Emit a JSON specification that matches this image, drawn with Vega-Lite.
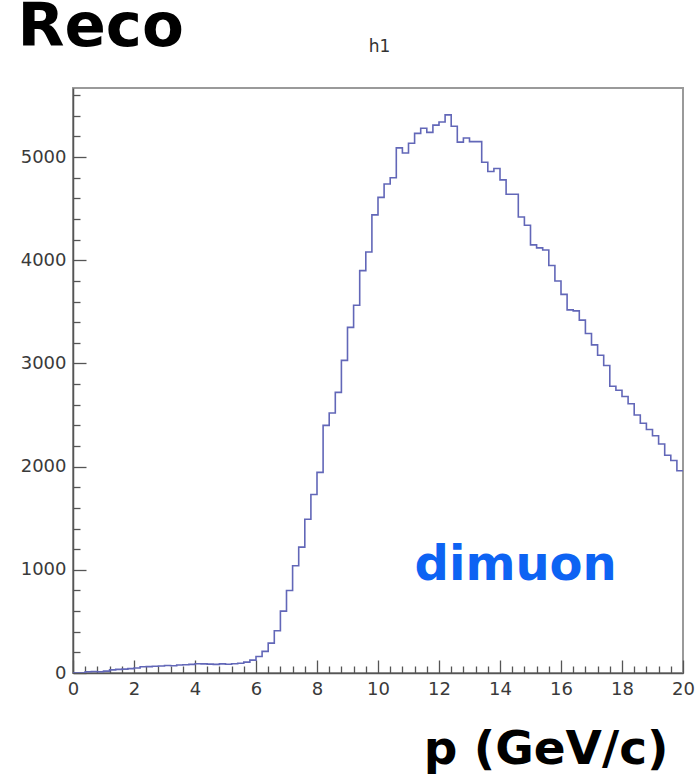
{
  "$schema": "https://vega.github.io/schema/vega-lite/v6.json",
  "autosize": "none",
  "width": 610,
  "height": 585,
  "padding": {"left": 73, "top": 88, "right": 17, "bottom": 103},
  "background": "white",
  "config": {
    "view": {"stroke": "#9a9a9a", "strokeWidth": 2},
    "axis": {"grid": false}
  },
  "datasets": {
    "hist": [
      {"p": 0.0, "entries": 0}, {"p": 0.2, "entries": 0}, {"p": 0.4, "entries": 12}, {"p": 0.6, "entries": 14}, {"p": 0.8, "entries": 12},
      {"p": 1.0, "entries": 18}, {"p": 1.2, "entries": 30}, {"p": 1.4, "entries": 35}, {"p": 1.6, "entries": 38}, {"p": 1.8, "entries": 42},
      {"p": 2.0, "entries": 48}, {"p": 2.2, "entries": 60}, {"p": 2.4, "entries": 62}, {"p": 2.6, "entries": 65}, {"p": 2.8, "entries": 68},
      {"p": 3.0, "entries": 72}, {"p": 3.2, "entries": 70}, {"p": 3.4, "entries": 78}, {"p": 3.6, "entries": 80}, {"p": 3.8, "entries": 84},
      {"p": 4.0, "entries": 90}, {"p": 4.2, "entries": 88}, {"p": 4.4, "entries": 86}, {"p": 4.6, "entries": 84}, {"p": 4.8, "entries": 88},
      {"p": 5.0, "entries": 85}, {"p": 5.2, "entries": 90}, {"p": 5.4, "entries": 95}, {"p": 5.6, "entries": 105}, {"p": 5.8, "entries": 125},
      {"p": 6.0, "entries": 160}, {"p": 6.2, "entries": 210}, {"p": 6.4, "entries": 290}, {"p": 6.6, "entries": 410}, {"p": 6.8, "entries": 600},
      {"p": 7.0, "entries": 800}, {"p": 7.2, "entries": 1040}, {"p": 7.4, "entries": 1220}, {"p": 7.6, "entries": 1490}, {"p": 7.8, "entries": 1730},
      {"p": 8.0, "entries": 1945}, {"p": 8.2, "entries": 2400}, {"p": 8.4, "entries": 2520}, {"p": 8.6, "entries": 2720}, {"p": 8.8, "entries": 3030},
      {"p": 9.0, "entries": 3350}, {"p": 9.2, "entries": 3565}, {"p": 9.4, "entries": 3900}, {"p": 9.6, "entries": 4080}, {"p": 9.8, "entries": 4440},
      {"p": 10.0, "entries": 4610}, {"p": 10.2, "entries": 4740}, {"p": 10.4, "entries": 4800}, {"p": 10.6, "entries": 5090}, {"p": 10.8, "entries": 5040},
      {"p": 11.0, "entries": 5135}, {"p": 11.2, "entries": 5230}, {"p": 11.4, "entries": 5280}, {"p": 11.6, "entries": 5240}, {"p": 11.8, "entries": 5310},
      {"p": 12.0, "entries": 5340}, {"p": 12.2, "entries": 5410}, {"p": 12.4, "entries": 5300}, {"p": 12.6, "entries": 5145}, {"p": 12.8, "entries": 5185},
      {"p": 13.0, "entries": 5150}, {"p": 13.2, "entries": 5150}, {"p": 13.4, "entries": 4950}, {"p": 13.6, "entries": 4860}, {"p": 13.8, "entries": 4890},
      {"p": 14.0, "entries": 4780}, {"p": 14.2, "entries": 4640}, {"p": 14.4, "entries": 4640}, {"p": 14.6, "entries": 4420}, {"p": 14.8, "entries": 4340},
      {"p": 15.0, "entries": 4150}, {"p": 15.2, "entries": 4120}, {"p": 15.4, "entries": 4100}, {"p": 15.6, "entries": 3950}, {"p": 15.8, "entries": 3800},
      {"p": 16.0, "entries": 3670}, {"p": 16.2, "entries": 3520}, {"p": 16.4, "entries": 3510}, {"p": 16.6, "entries": 3420}, {"p": 16.8, "entries": 3290},
      {"p": 17.0, "entries": 3180}, {"p": 17.2, "entries": 3080}, {"p": 17.4, "entries": 2980}, {"p": 17.6, "entries": 2780}, {"p": 17.8, "entries": 2740},
      {"p": 18.0, "entries": 2680}, {"p": 18.2, "entries": 2610}, {"p": 18.4, "entries": 2500}, {"p": 18.6, "entries": 2420}, {"p": 18.8, "entries": 2360},
      {"p": 19.0, "entries": 2300}, {"p": 19.2, "entries": 2220}, {"p": 19.4, "entries": 2110}, {"p": 19.6, "entries": 2060}, {"p": 19.8, "entries": 1960},
      {"p": 20.0, "entries": 1960}
    ],
    "notes": [
      {"p": 11.2, "entries": 900, "label": "dimuon", "kind": "big"},
      {"p": 10.05, "entries": 6020, "label": "h1", "kind": "small"},
      {"p": -1.82, "entries": 6080, "label": "Reco", "kind": "head"}
    ]
  },
  "encoding": {
    "x": {
      "field": "p", "type": "quantitative",
      "scale": {"domain": [0, 20], "nice": false, "zero": false},
      "axis": {
        "title": "p (GeV/c)",
        "titleFont": "DejaVu Sans", "titleFontSize": 47, "titleFontWeight": "bold", "titleColor": "black",
        "titleAlign": "right", "titleX": 595, "titleY": 90, "titleBaseline": "alphabetic",
        "values": [0, 0.4, 0.8, 1.2, 1.6, 2, 2.4, 2.8, 3.2, 3.6, 4, 4.4, 4.8, 5.2, 5.6, 6, 6.4, 6.8, 7.2, 7.6, 8, 8.4, 8.8, 9.2, 9.6, 10, 10.4, 10.8, 11.2, 11.6, 12, 12.4, 12.8, 13.2, 13.6, 14, 14.4, 14.8, 15.2, 15.6, 16, 16.4, 16.8, 17.2, 17.6, 18, 18.4, 18.8, 19.2, 19.6, 20],
        "tickCount": 200,
        "tickMinStep": 0.1,
        "labelExpr": "datum.value % 2 === 0 ? datum.label : ''",
        "format": "~g",
        "labelFlush": false, "labelOverlap": false,
        "labelFont": "DejaVu Sans", "labelFontSize": 18, "labelColor": "#3a3a3a",
        "labelPadding": 20,
        "tickSize": {"condition": {"test": "datum.value % 2 === 0", "value": -13}, "value": -7},
        "tickColor": "#555555", "tickWidth": 1.3,
        "domainColor": "#555555", "domainWidth": 1.5
      }
    },
    "y": {
      "field": "entries", "type": "quantitative",
      "scale": {"domain": [0, 5670], "nice": false},
      "axis": {
        "title": null,
        "values": [0, 200, 400, 600, 800, 1000, 1200, 1400, 1600, 1800, 2000, 2200, 2400, 2600, 2800, 3000, 3200, 3400, 3600, 3800, 4000, 4200, 4400, 4600, 4800, 5000, 5200, 5400, 5600],
        "tickCount": 200,
        "labelExpr": "datum.value % 1000 === 0 ? datum.label : ''",
        "format": "d",
        "labelFlush": false, "labelOverlap": false,
        "labelFont": "DejaVu Sans", "labelFontSize": 18, "labelColor": "#3a3a3a",
        "labelPadding": 20,
        "tickSize": {"condition": {"test": "datum.value % 1000 === 0", "value": -13}, "value": -7},
        "tickColor": "#555555", "tickWidth": 1.3,
        "domainColor": "#555555", "domainWidth": 1.5
      }
    }
  },
  "layer": [
    {
      "data": {"name": "hist"},
      "mark": {"type": "line", "interpolate": "step-after", "color": "#6267b8", "strokeWidth": 1.6, "clip": true}
    },
    {
      "data": {"name": "notes"},
      "transform": [{"filter": "datum.kind === 'big'"}],
      "mark": {"type": "text", "align": "left", "baseline": "alphabetic", "font": "DejaVu Sans", "fontSize": 48, "fontWeight": "bold", "color": "#0d63f3", "clip": false},
      "encoding": {"text": {"field": "label"}}
    },
    {
      "data": {"name": "notes"},
      "transform": [{"filter": "datum.kind === 'small'"}],
      "mark": {"type": "text", "align": "center", "baseline": "alphabetic", "font": "DejaVu Sans", "fontSize": 17, "color": "#333333", "clip": false},
      "encoding": {"text": {"field": "label"}}
    },
    {
      "data": {"name": "notes"},
      "transform": [{"filter": "datum.kind === 'head'"}],
      "mark": {"type": "text", "align": "left", "baseline": "alphabetic", "font": "DejaVu Sans", "fontSize": 61, "fontWeight": "bold", "color": "black", "clip": false},
      "encoding": {"text": {"field": "label"}}
    }
  ]
}
